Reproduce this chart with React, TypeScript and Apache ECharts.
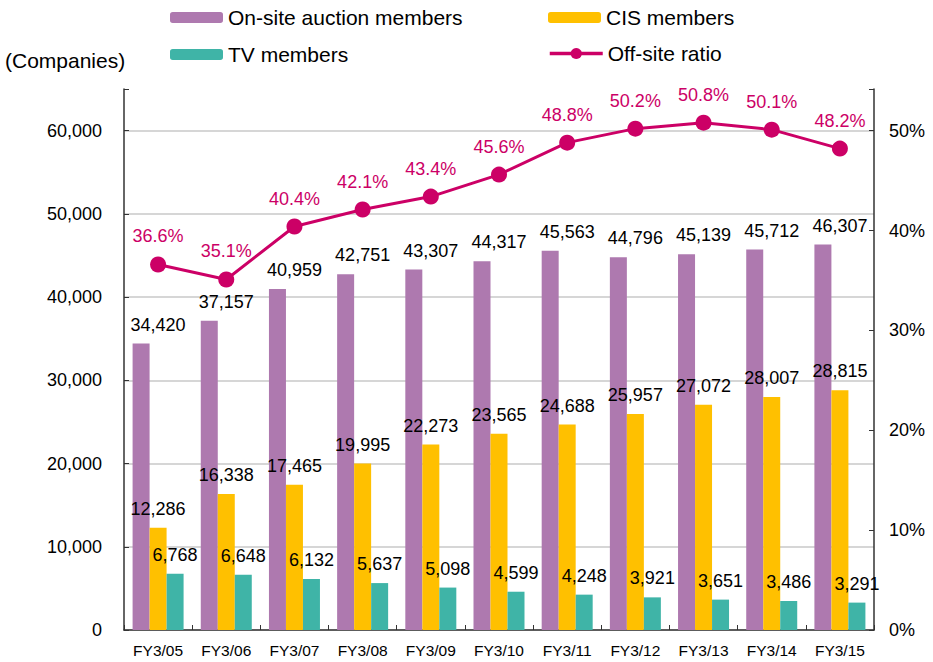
import React, { useEffect, useRef } from "react";
import * as echarts from "echarts";

const categories = ["FY3/05", "FY3/06", "FY3/07", "FY3/08", "FY3/09", "FY3/10", "FY3/11", "FY3/12", "FY3/13", "FY3/14", "FY3/15"];
const onSite = [34420, 37157, 40959, 42751, 43307, 44317, 45563, 44796, 45139, 45712, 46307];
const cis = [12286, 16338, 17465, 19995, 22273, 23565, 24688, 25957, 27072, 28007, 28815];
const tv = [6768, 6648, 6132, 5637, 5098, 4599, 4248, 3921, 3651, 3486, 3291];
const ratio = [36.6, 35.1, 40.4, 42.1, 43.4, 45.6, 48.8, 50.2, 50.8, 50.1, 48.2];

const FONT = "'Liberation Sans', Arial, sans-serif";
const C_PURPLE = "#AE79AF";
const C_YELLOW = "#FFC000";
const C_TEAL = "#3FB4A7";
const C_MAGENTA = "#CC0066";

export default function App() {
  const ref = useRef<HTMLDivElement>(null);
  useEffect(() => {
    if (!ref.current) return;
    const chart = echarts.init(ref.current, null, { renderer: "svg" });
    const fmt = (v: number) => v.toLocaleString("en-US");
    const legendBase = {
      itemWidth: 53,
      itemHeight: 11,
      itemGap: 0,
      textStyle: { fontSize: 21, color: "#000", fontFamily: FONT, padding: [0, 0, 0, 0] },
      padding: 0,
    };
    const barLabel = (offset: number[]) => ({
      show: true,
      position: "top",
      distance: 10,
      offset,
      color: "#000",
      fontSize: 18,
      fontFamily: FONT,
      formatter: (p: any) => fmt(p.value),
    });
    chart.setOption({
      animation: false,
      textStyle: { fontFamily: FONT },
      grid: { left: 124, right: 59, top: 89, bottom: 32, containLabel: false },
      legend: [
        { ...legendBase, data: ["On-site auction members"], left: 170, top: 7 },
        { ...legendBase, data: ["CIS members"], left: 548, top: 7 },
        { ...legendBase, data: ["TV members"], left: 170, top: 44 },
        {
          ...legendBase,
          itemHeight: 14,
          lineStyle: { width: 3.5 },
          data: ["Off-site ratio"],
          left: 548,
          top: 43,
        },
      ],
      graphic: [
        {
          type: "text",
          left: 5,
          top: 50,
          style: { text: "(Companies)", fontSize: 21, fill: "#000", fontFamily: FONT },
        },
      ],
      xAxis: {
        type: "category",
        data: categories,
        axisLine: { lineStyle: { color: "#333", width: 1.5 } },
        axisTick: { show: true, inside: true, length: 5, lineStyle: { color: "#333" } },
        axisLabel: { color: "#000", fontSize: 15.5, margin: 12, fontFamily: FONT },
      },
      yAxis: [
        {
          type: "value",
          min: 0,
          max: 65000,
          interval: 10000,
          axisLine: { show: true, lineStyle: { color: "#333", width: 1.5 } },
          axisTick: { show: true, inside: true, length: 5, lineStyle: { color: "#333" } },
          axisLabel: {
            color: "#000",
            fontSize: 18,
            margin: 22,
            fontFamily: FONT,
            formatter: (v: number) => (v % 10000 === 0 ? fmt(v) : ""),
          },
          splitLine: { show: true, showMaxLine: false, lineStyle: { color: "#C8C8C8", width: 1.5 } },
        },
        {
          type: "value",
          min: 0,
          max: 54.17,
          interval: 10,
          axisLine: { show: true, lineStyle: { color: "#333", width: 1.5 } },
          axisTick: { show: true, inside: true, length: 5, lineStyle: { color: "#333" } },
          axisLabel: {
            color: "#000",
            fontSize: 18,
            margin: 15,
            fontFamily: FONT,
            formatter: (v: number) => (Math.abs(v % 10) < 1e-6 ? v + "%" : ""),
          },
          splitLine: { show: false },
        },
      ],
      series: [
        {
          name: "On-site auction members",
          type: "bar",
          data: onSite,
          barWidth: 17,
          barGap: "0%",
          itemStyle: { color: C_PURPLE },
          label: barLabel([17, 0]),
        },
        {
          name: "CIS members",
          type: "bar",
          data: cis,
          barWidth: 17,
          barGap: "0%",
          itemStyle: { color: C_YELLOW },
          label: barLabel([0, 0]),
        },
        {
          name: "TV members",
          type: "bar",
          data: tv,
          barWidth: 17,
          barGap: "0%",
          itemStyle: { color: C_TEAL },
          label: barLabel([0, 0]),
        },
        {
          name: "Off-site ratio",
          type: "line",
          yAxisIndex: 1,
          data: ratio,
          symbol: "circle",
          symbolSize: 16,
          lineStyle: { color: C_MAGENTA, width: 3 },
          itemStyle: { color: C_MAGENTA },
          label: {
            show: true,
            position: "top",
            distance: 11,
            color: C_MAGENTA,
            fontSize: 18,
            fontFamily: FONT,
            formatter: (p: any) => p.value.toFixed(1) + "%",
          },
          z: 5,
        },
      ],
    });
    return () => chart.dispose();
  }, []);
  return (
    <div
      ref={ref}
      style={{ position: "fixed", left: 0, top: 0, width: 933, height: 662, background: "#fff" }}
    />
  );
}
